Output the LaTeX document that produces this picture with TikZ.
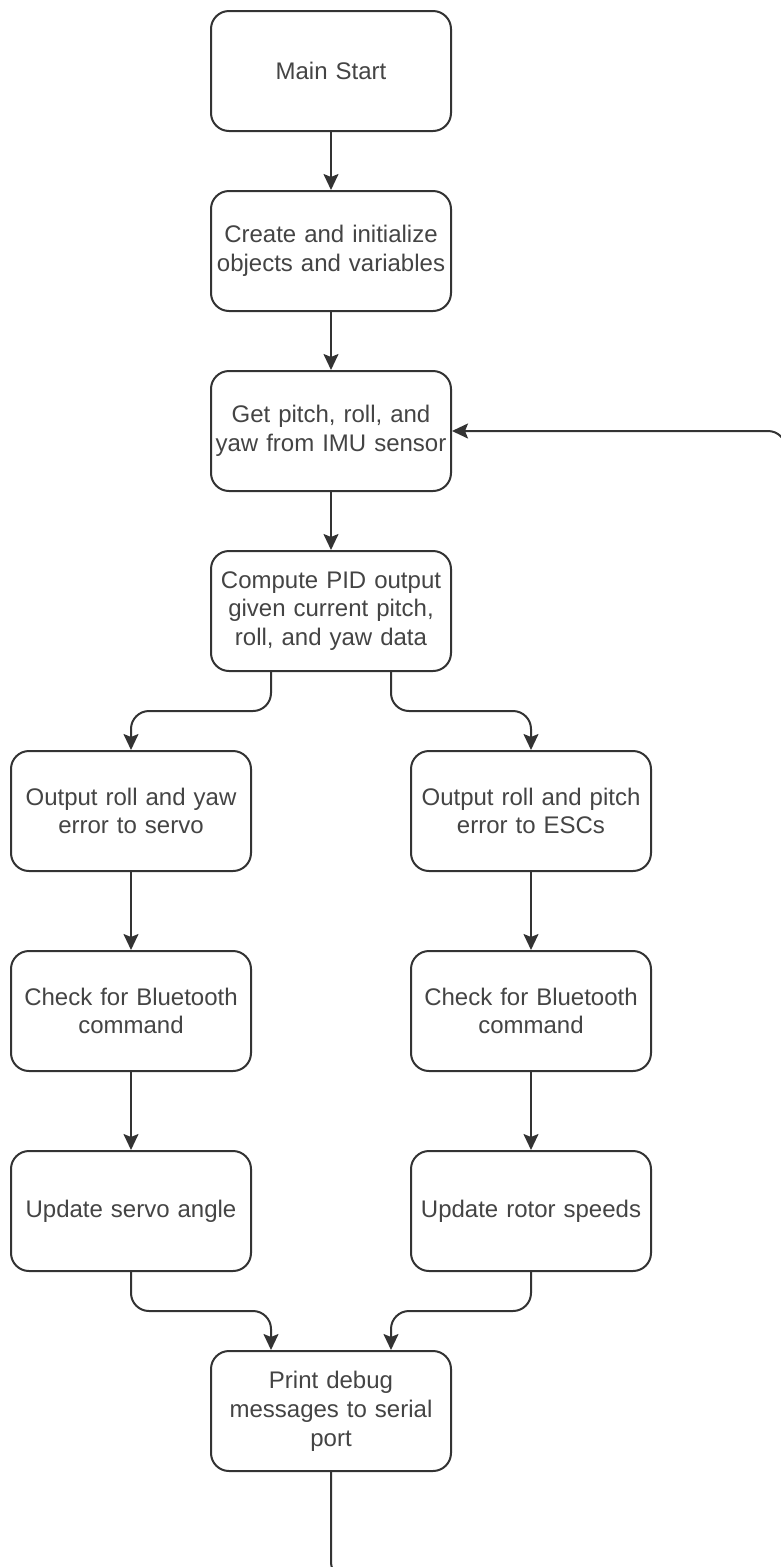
\documentclass[tikz,border=0pt]{standalone}
\usepackage{fontspec}
\setmainfont{Liberation Sans}
\usepackage{tikz}
\usetikzlibrary{arrows.meta}
\definecolor{linegray}{HTML}{333333}
\definecolor{textgray}{HTML}{444444}
\tikzstyle{stepbox} = [draw=linegray, line width=2pt, rounded corners=18pt, fill=white, minimum width=240pt, minimum height=120pt, inner sep=4pt, text width=232pt, align=center, text=textgray, font=\fontsize{24}{28.8}\selectfont]
\tikzstyle{flow} = [draw=linegray, line width=2pt, rounded corners=18pt, -{Stealth[length=16pt,width=15pt,inset=3pt]}]

\begin{document}
\begin{tikzpicture}[x=1pt,y=-1pt]

    \useasboundingbox (0,0) rectangle (781,1567);
    \clip (0,0) rectangle (781,1567);

    %main column
    \node[stepbox] at (331,71) (start) {Main Start};
    \node[stepbox] at (331,251) (init) {Create and initialize\\objects and variables};
    \node[stepbox] at (331,431) (imu) {Get pitch, roll, and\\yaw from IMU sensor};
    \node[stepbox] at (331,611) (pid) {Compute PID output\\given current pitch,\\roll, and yaw data};

    %servo side
    \node[stepbox] at (131,811) (servo) {Output roll and yaw\\error to servo};
    \node[stepbox] at (131,1011) (btleft) {Check for Bluetooth\\command};
    \node[stepbox] at (131,1211) (angle) {Update servo angle};

    %esc side
    \node[stepbox] at (531,811) (esc) {Output roll and pitch\\error to ESCs};
    \node[stepbox] at (531,1011) (btright) {Check for Bluetooth\\command};
    \node[stepbox] at (531,1211) (rotor) {Update rotor speeds};

    %debug
    \node[stepbox] at (331,1411) (debug) {Print debug\\messages to serial\\port};

    %straight arrows
    \foreach \a/\b in {start/init, init/imu, imu/pid, servo/btleft, btleft/angle, esc/btright, btright/rotor}
      {
        \draw[flow] (\a) -- (\b);
      }

    %split and join
    \draw[flow] ([xshift=-60pt]pid.south) -- ++(0,39) -| (servo.north);
    \draw[flow] ([xshift=60pt]pid.south) -- ++(0,39) -| (esc.north);
    \draw[flow] (angle.south) -- ++(0,39) -| ([xshift=-60pt]debug.north);
    \draw[flow] (rotor.south) -- ++(0,39) -| ([xshift=60pt]debug.north);

    %loop back
    \coordinate (loopbot) at (786,1580);
    \draw[flow] (debug.south) |- (loopbot) |- (imu.east);

\end{tikzpicture}
\end{document}
